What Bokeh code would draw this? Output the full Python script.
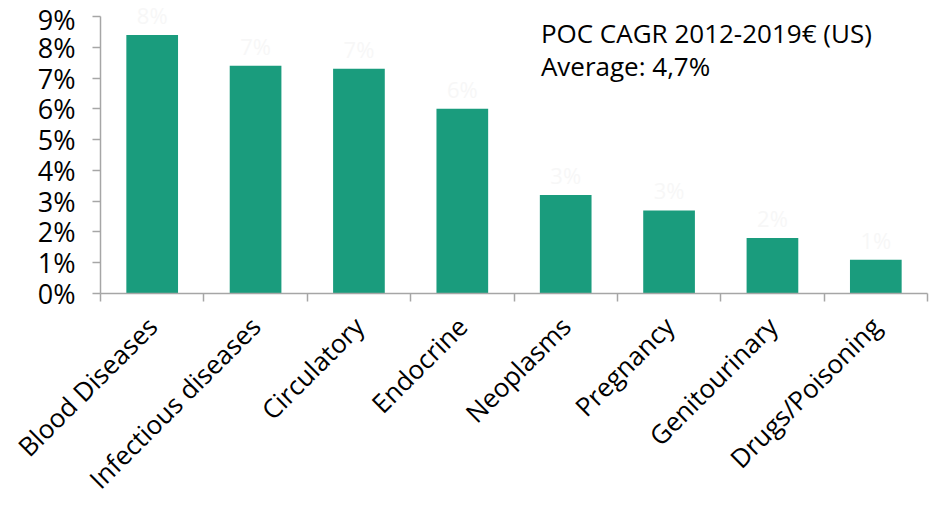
import math
from bokeh.plotting import figure
from bokeh.models import ColumnDataSource, FixedTicker, PrintfTickFormatter, Range1d, Label
from bokeh.core.properties import value
from bokeh.embed import file_html
from bokeh.resources import INLINE

categories = ["Blood Diseases", "Infectious diseases", "Circulatory", "Endocrine",
              "Neoplasms", "Pregnancy", "Genitourinary", "Drugs/Poisoning"]
cagr = [8.4, 7.4, 7.3, 6.0, 3.2, 2.7, 1.8, 1.1]
y_ticks = [0, 1, 2, 3, 4, 5, 6, 7, 8, 9]
title_lines = ["POC CAGR 2012-2019€ (US)", "Average: 4,7%"]

FONT = "Open Sans"
GRAY = "#a6a6a6"
BAR = "#1a9c7d"

n = len(categories)
xs = [i + 0.5 for i in range(n)]
src = ColumnDataSource(dict(x=xs, top=cagr, lab=[f"{round(v)}%" for v in cagr]))

p = figure(width=936, height=511, output_backend="svg", toolbar_location=None,
           x_range=Range1d(0, n), y_range=Range1d(0, 9.52),
           min_border_left=100, min_border_right=9, min_border_top=0, min_border_bottom=217)
p.outline_line_color = None
p.xgrid.visible = False
p.ygrid.visible = False
p.background_fill_color = "white"
p.border_fill_color = "white"

p.vbar(x="x", top="top", width=0.5, bottom=0, source=src, fill_color=BAR, line_color=None)
p.text(x="x", y="top", text="lab", source=src, text_align="center", text_baseline="bottom",
       y_offset=-5, text_font=value(FONT), text_font_size="22px", text_color="#f7f7f7")

# y axis
p.yaxis.bounds = (0, 9)
p.yaxis.ticker = FixedTicker(ticks=y_ticks)
p.yaxis.formatter = PrintfTickFormatter(format="%d%%")
p.yaxis.axis_line_color = GRAY
p.yaxis.axis_line_width = 1.5
p.yaxis.major_tick_line_color = GRAY
p.yaxis.major_tick_line_width = 1.5
p.yaxis.major_tick_in = 0
p.yaxis.major_tick_out = 8
p.yaxis.minor_tick_line_color = None
p.yaxis.major_label_text_font = FONT
p.yaxis.major_label_text_font_size = "27px"
p.yaxis.major_label_text_color = "black"
p.yaxis.major_label_standoff = 17

# x axis: labels at centres, ticks at boundaries (minor)
p.xaxis.ticker = FixedTicker(ticks=xs, minor_ticks=list(range(n + 1)))
p.xaxis.major_label_overrides = {x: c for x, c in zip(xs, categories)}
p.xaxis.axis_line_color = GRAY
p.xaxis.axis_line_width = 1.5
p.xaxis.major_tick_line_color = None
p.xaxis.minor_tick_line_color = GRAY
p.xaxis.minor_tick_line_width = 1.5
p.xaxis.minor_tick_in = 0
p.xaxis.minor_tick_out = 8
p.xaxis.major_label_orientation = math.pi / 4
p.xaxis.major_label_text_font = FONT
p.xaxis.major_label_text_font_size = "26px"
p.xaxis.major_label_text_color = "black"
p.xaxis.major_label_standoff = 20

for t, yv in zip(title_lines, [8.45, 7.4]):
    p.add_layout(Label(x=4.26, y=yv, text=t, text_font=FONT, text_font_size="26px",
                       text_color="black", text_baseline="alphabetic"))

open("out.html", "w").write(file_html(p, INLINE))
